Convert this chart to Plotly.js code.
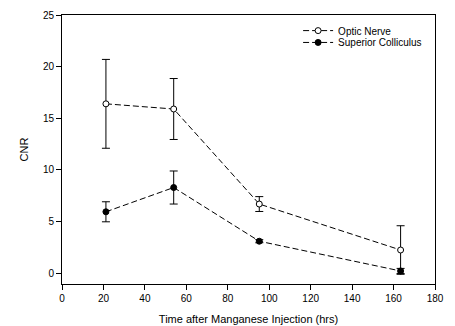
<!DOCTYPE html>
<html>
<head>
<script src="https://cdn.plot.ly/plotly-3.0.1.min.js"></script>
<style>body{margin:0;padding:0;background:#fff}#chart{width:455px;height:326px}</style>
</head>
<body>
<div id="chart"></div>
<script>
const hours = [21.2, 53.9, 95.2, 163.4];
const opticNerve = [16.4, 15.9, 6.7, 2.25];
const opticNerveErr = [4.3, 2.95, 0.72, 2.35];
const superiorColliculus = [5.95, 8.3, 3.1, 0.22];
const superiorColliculusErr = [0.97, 1.6, 0.15, 0.25];
const xTicks = [0, 20, 40, 60, 80, 100, 120, 140, 160, 180];
const yTicks = [0, 5, 10, 15, 20, 25];

const font = {family: 'Liberation Sans, Arial, sans-serif', size: 10, color: '#000'};
const dash = '6px,3px';

const traces = [
  {
    x: hours, y: opticNerve, name: 'Optic Nerve', mode: 'lines+markers', type: 'scatter',
    legend: 'legend',
    line: {color: '#000', width: 1, dash: dash},
    marker: {symbol: 'circle', size: 6, color: '#fff', line: {color: '#000', width: 1}},
    error_y: {type: 'data', array: opticNerveErr, visible: true, color: '#000', thickness: 1, width: 4}
  },
  {
    x: hours, y: superiorColliculus, name: 'Superior Colliculus', mode: 'lines+markers', type: 'scatter',
    legend: 'legend2',
    line: {color: '#000', width: 1, dash: dash},
    marker: {symbol: 'circle', size: 6, color: '#000', line: {color: '#000', width: 1}},
    error_y: {type: 'data', array: superiorColliculusErr, visible: true, color: '#000', thickness: 1, width: 4}
  }
];

const legendBase = {xanchor: 'left', yanchor: 'middle', bgcolor: 'rgba(0,0,0,0)',
  font: {family: font.family, size: 10, color: '#000'}, itemwidth: 30};

const layout = {
  width: 455, height: 326,
  margin: {l: 62, r: 20, t: 15, b: 42},
  paper_bgcolor: '#fff', plot_bgcolor: '#fff',
  font: font,
  showlegend: true,
  legend: Object.assign({}, legendBase, {x: 0.633, y: 0.942}),
  legend2: Object.assign({}, legendBase, {x: 0.633, y: 0.898}),
  xaxis: {
    range: [0, 180], tickvals: xTicks, ticktext: xTicks.map(String),
    showgrid: false, zeroline: false, showline: true, linecolor: '#000', linewidth: 1, mirror: true,
    ticks: 'outside', ticklen: 5, tickcolor: '#000', tickwidth: 1,
    tickfont: {family: font.family, size: 10, color: '#000'},
    title: {text: 'Time after Manganese Injection (hrs)', font: {family: font.family, size: 11, color: '#000'}, standoff: 12}
  },
  yaxis: {
    range: [-1.04, 25], tickvals: yTicks, ticktext: yTicks.map(String),
    showgrid: false, zeroline: false, showline: true, linecolor: '#000', linewidth: 1, mirror: true,
    ticks: 'outside', ticklen: 5, tickcolor: '#000', tickwidth: 1,
    tickfont: {family: font.family, size: 10, color: '#000'},
    title: {text: 'CNR', font: {family: font.family, size: 11, color: '#000'}, standoff: 12}
  }
};

Plotly.newPlot('chart', traces, layout, {displayModeBar: false, staticPlot: true});
</script>
</body>
</html>
